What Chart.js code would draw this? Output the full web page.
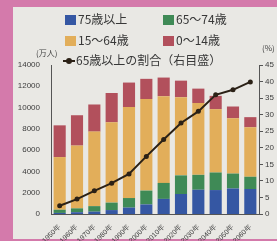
<!DOCTYPE html>
<html lang="ja">
<head>
<meta charset="utf-8">
<script src="https://cdn.jsdelivr.net/npm/chart.js@4"></script>
<style>
  html, body { margin: 0; padding: 0; }
  body {
    width: 277px; height: 241px; position: relative; overflow: hidden;
    background: #d47aab;
    font-family: "Noto Sans CJK JP", "Noto Sans", sans-serif;
  }
  #panel { position: absolute; left: 13px; top: 7px; right: 0; bottom: 2px; background: #e9e8e4; }
  #wrap { position: absolute; left: 0; top: 0; width: 277px; height: 241px; }
  .lg { position: absolute; font-size: 12px; line-height: 12px; color: #383838; white-space: nowrap; }
  .lg i { display: inline-block; width: 11px; height: 10px; margin-right: 2px; vertical-align: -1px; }
  .lg b { display: inline-block; position: relative; width: 12px; height: 10px; margin-right: 1px; vertical-align: -1px; }
  .lg b:before { content: ''; position: absolute; left: 0; right: 0; top: 4px; height: 2px; background: #2b2116; }
  .lg b:after { content: ''; position: absolute; left: 3px; top: 2px; width: 6px; height: 6px; border-radius: 3px; background: #2b2116; }
  .unit { position: absolute; font-size: 8px; color: #444; }
</style>
</head>
<body>
<div id="panel"></div>
<div id="wrap"><canvas id="chart" width="277" height="241"></canvas></div>
<div id="legend"></div>
<div class="unit" style="left:36px; top:47px;">(万人)</div>
<div class="unit" style="left:262px; top:42px;">(%)</div>
<script>
/* ── Data ─────────────────────────────────────────────── */

var years = ['1950年', '1960年', '1970年', '1980年', '1990年', '2000年',
             '2010年', '2020年', '2030年', '2040年', '2050年', '2060年'];

/* population, 万人 (stacked from the bottom) */
var age75over = [100, 170, 220, 370, 600, 900, 1420, 1880, 2280, 2250, 2400, 2350];
var age65to74 = [300, 360, 520, 700, 900, 1300, 1500, 1750, 1400, 1650, 1400, 1150];
var age15to64 = [4950, 5900, 7000, 7550, 8550, 8600, 8150, 7350, 6750, 5950, 5200, 4650];
var age0to14  = [2980, 2850, 2550, 2750, 2300, 1900, 1750, 1550, 1350, 1250, 1100, 950];

/* share of 65+ , % (right axis) */
var elderRate = [2.5, 4.5, 7, 9.3, 12.1, 17.4, 22.5, 27.5, 31, 36, 37.5, 39.9];

var seriesNames = ['75歳以上', '65〜74歳', '15〜64歳', '0〜14歳'];
var lineName = '65歳以上の割合（右目盛）';

/* ── Styles ───────────────────────────────────────────── */

var barColors = ['#3557a3', '#3f8a56', '#e2ae5a', '#b2505c'];
var lineColor = '#2b2116';
var tickColor = '#3c3c3c';

/* ── Chart ────────────────────────────────────────────── */

var barSeries = [age75over, age65to74, age15to64, age0to14];

var datasets = barSeries.map(function (d, i) {
  return {
    type: 'bar',
    label: seriesNames[i],
    data: d,
    backgroundColor: barColors[i],
    borderWidth: 0,
    barPercentage: 0.7,
    categoryPercentage: 1,
    yAxisID: 'y',
    order: 2
  };
});

datasets.push({
  type: 'line',
  label: lineName,
  data: elderRate,
  borderColor: lineColor,
  backgroundColor: lineColor,
  pointBackgroundColor: lineColor,
  pointBorderWidth: 0,
  pointRadius: 2.5,
  borderWidth: 2,
  tension: 0,
  yAxisID: 'y1',
  order: 1
});

new Chart(document.getElementById('chart'), {
  data: { labels: years, datasets: datasets },
  options: {
    responsive: false,
    animation: false,
    events: [],
    layout: { padding: { top: 65, left: 13, right: 0, bottom: 0 } },
    plugins: { legend: { display: false }, tooltip: { enabled: false } },
    scales: {
      x: {
        stacked: true,
        grid: { display: false },
        border: { display: true, color: '#555', width: 1 },
        ticks: {
          color: tickColor,
          font: { size: 7 },
          autoSkip: false,
          minRotation: 45,
          maxRotation: 45,
          padding: 1
        },
        afterFit: function (s) { s.height = 27; }
      },
      y: {
        stacked: true,
        position: 'left',
        min: 0,
        max: 14000,
        grid: { display: false },
        border: { display: true, color: '#555', width: 1 },
        ticks: {
          color: tickColor,
          font: { size: 8 },
          stepSize: 2000,
          padding: 3,
          callback: function (v) { return String(v); }
        },
        afterFit: function (s) { s.width = 38; }
      },
      y1: {
        position: 'right',
        min: 0,
        max: 45,
        grid: { display: true, drawOnChartArea: false, tickLength: 4, color: '#555' },
        border: { display: true, color: '#555', width: 1 },
        ticks: { color: tickColor, font: { size: 8 }, stepSize: 5, padding: 2 },
        afterFit: function (s) { s.width = 18; }
      }
    }
  }
});

/* ── Legend (two columns + line row) ──────────────────── */

var legendSpots = [[65, 13], [163, 13], [65, 34], [163, 34]];
var html = '';
seriesNames.forEach(function (name, i) {
  html += '<div class="lg" style="left:' + legendSpots[i][0] + 'px; top:' + legendSpots[i][1] + 'px;">' +
          '<i style="background:' + barColors[i] + '"></i>' + name + '</div>';
});
html += '<div class="lg" style="left:63px; top:54px;"><b></b>' + lineName + '</div>';
document.getElementById('legend').innerHTML = html;
</script>
</body>
</html>
